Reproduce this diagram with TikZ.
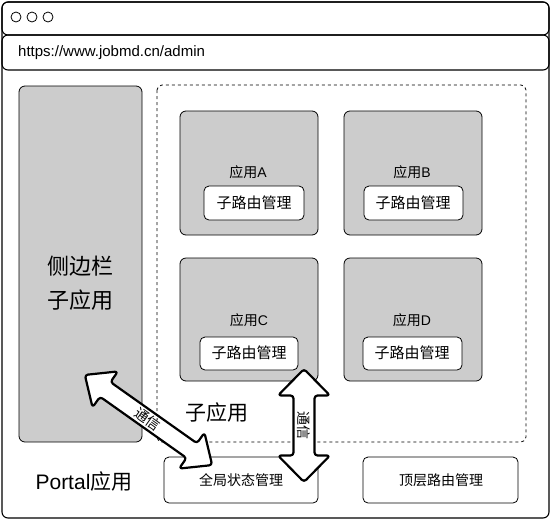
\documentclass[tikz,border=0pt]{standalone}
\usepackage{fontspec}
\setmainfont{Noto Sans CJK SC}
\newfontfamily\lat{Liberation Sans}
\begin{document}
\begin{tikzpicture}[x=1pt,y=-1pt,
  frame/.style={draw=black,line width=1.1pt,rounded corners=6pt},
  app/.style={draw=black,fill=black!20,line width=0.8pt,rounded corners=6pt},
  wbox/.style={draw=black,fill=white,line width=0.8pt,rounded corners=5pt},
  lbl/.style={font=\fontsize{14}{16}\selectfont,inner sep=0pt},
  big/.style={font=\fontsize{21}{24}\selectfont,inner sep=0pt},
  fat/.style={draw=black,fill=white,line width=2.2pt,rounded corners=3pt,line join=round}]
\useasboundingbox (0,0) rectangle (551,520);
% window
\draw[frame] (2,2) rectangle (549,518);
\draw[frame] (2,2) rectangle (549,35);
\draw[frame] (2,35) rectangle (549,70);
\foreach \cx/\nm in {16/d1,32/d2,48/d3}
  \node[circle,draw,line width=0.8pt,minimum size=10pt,inner sep=0pt] (\nm) at (\cx,17) {};
\node[anchor=west,inner sep=0pt,font=\lat\fontsize{15}{17}\selectfont] (url) at (18,53) {https://www.jobmd.cn/admin};
% sidebar
\draw[app] (19,86) rectangle (142,442);
\node[big,font=\fontsize{22}{26}\selectfont] (side1) at (80,266) {侧边栏};
\node[big,font=\fontsize{22}{26}\selectfont] (side2) at (80,300) {子应用};
% dashed area
\draw[dashed,line width=0.8pt,rounded corners=5pt] (157,85) rectangle (526,442);
% apps
\draw[app] (180,111) rectangle (318,235);
\draw[app] (344,111) rectangle (482,235);
\draw[app] (180,258) rectangle (318,381);
\draw[app] (344,258) rectangle (482,381);
\node[lbl] (aA) at (248,172) {应用{\lat A}};
\node[lbl] (aB) at (412,172) {应用{\lat B}};
\node[lbl] (aC) at (249,320) {应用{\lat C}};
\node[lbl] (aD) at (412,320) {应用{\lat D}};
\draw[wbox] (204,186) rectangle (304,220);
\draw[wbox] (364,186) rectangle (463,220);
\draw[wbox] (200,337) rectangle (298,370);
\draw[wbox] (363,337) rectangle (462,370);
\node[lbl,font=\fontsize{15}{17}\selectfont] (rA) at (254,203) {子路由管理};
\node[lbl,font=\fontsize{15}{17}\selectfont] (rB) at (413,203) {子路由管理};
\node[lbl,font=\fontsize{15}{17}\selectfont] (rC) at (249,353) {子路由管理};
\node[lbl,font=\fontsize{15}{17}\selectfont] (rD) at (412,353) {子路由管理};
\node[big] (sub) at (217,413) {子应用};
% bottom
\node[big] (portal) at (84,481) {{\lat Portal}应用};
\draw[wbox] (164,457) rectangle (318,503);
\draw[wbox] (363,457) rectangle (518,503);
\node[lbl] (glob) at (241,480) {全局状态管理};
\node[lbl] (top) at (441,480) {顶层路由管理};
% diagonal double arrow
\begin{scope}[shift={(148.5,420)},rotate=-35.3]
\draw[fat] (-78,0) -- (-53,22) -- (-53,9) -- (53,9) -- (53,22) -- (78,0) -- (53,-22) -- (53,-9) -- (-53,-9) -- (-53,-22) -- cycle;
\end{scope}
\node[lbl,rotate=-35.3,font=\fontsize{14}{16}\selectfont] (c1) at (148,419) {通信};
% vertical double arrow
\begin{scope}[shift={(304,425.5)},rotate=-90]
\draw[fat] (-56.5,0) -- (-30,26) -- (-30,10.5) -- (30,10.5) -- (30,26) -- (56.5,0) -- (30,-26) -- (30,-10.5) -- (-30,-10.5) -- (-30,-26) -- cycle;
\end{scope}
\node[lbl,rotate=-90,font=\fontsize{14}{16}\selectfont] (c2) at (304,425) {通信};
\end{tikzpicture}
\end{document}
